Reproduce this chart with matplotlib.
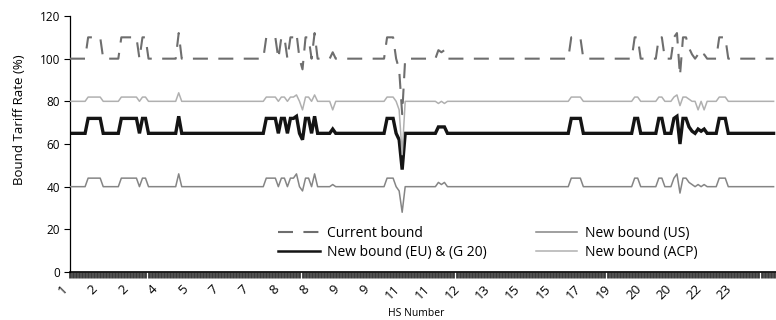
import matplotlib
matplotlib.use('Agg')
import matplotlib.pyplot as plt
from matplotlib.ticker import FixedLocator, MultipleLocator

plt.rcParams['font.family'] = ['Open Sans', 'DejaVu Sans']

# ---------------- data ----------------
tick_labels = ['1', '2', '2', '4', '5', '7', '7', '8', '8', '9', '9', '11', '11',
               '12', '13', '15', '15', '17', '19', '20', '20', '22', '23']
label_step = 10

current_bound = ([100]*6 + [110]*5 + [100]*6 + [110]*6 + [100] + [110]*2 + [100]*10 + [112]
                 + [100]*28 + [110]*4 + [100] + [110]*2 + [100] + [110]*2 + [112] + [100] + [95]
                 + [110]*2 + [100] + [112] + [100]*5 + [103] + [100]*17 + [110]*3 + [100] + [95]
                 + [74] + [100]*11 + [104, 103, 104] + [100]*41 + [110]*4 + [100]*17 + [110]*2
                 + [100]*6 + [110]*2 + [100]*3 + [110, 112, 92, 110, 110, 105, 102] + [100]
                 + [102, 100, 102] + [100]*4 + [110]*3 + [100]*16)

new_bound_eu = ([65]*6 + [72]*5 + [65]*6 + [72]*6 + [65] + [72]*2 + [65]*10 + [73]
                + [65]*28 + [72]*4 + [65] + [72]*2 + [65] + [72]*2 + [73] + [65] + [62]
                + [72]*2 + [65] + [73] + [65]*5 + [67] + [65]*17 + [72]*3 + [65] + [62]
                + [48] + [65]*11 + [68, 68, 68] + [65]*41 + [72]*4 + [65]*17 + [72]*2
                + [65]*6 + [72]*2 + [65]*3 + [72, 73, 60, 72, 72, 68, 66] + [65]
                + [67, 66, 67] + [65]*4 + [72]*3 + [65]*16)

new_bound_us = ([40]*6 + [44]*5 + [40]*6 + [44]*6 + [40] + [44]*2 + [40]*10 + [46]
                + [40]*28 + [44]*4 + [40] + [44]*2 + [40] + [44]*2 + [46] + [40] + [38]
                + [44]*2 + [40] + [46] + [40]*5 + [41] + [40]*17 + [44]*3 + [40] + [38]
                + [28] + [40]*11 + [42, 41, 42] + [40]*41 + [44]*4 + [40]*17 + [44]*2
                + [40]*6 + [44]*2 + [40]*3 + [44, 46, 37, 44, 44, 42, 41] + [40]
                + [41, 40, 41] + [40]*4 + [44]*3 + [40]*16)

new_bound_acp = ([80]*6 + [82]*5 + [80]*6 + [82]*6 + [80] + [82]*2 + [80]*10 + [84]
                 + [80]*28 + [82]*4 + [80] + [82]*2 + [80] + [82]*2 + [83] + [80] + [76]
                 + [82]*2 + [80] + [83] + [80]*5 + [76] + [80]*17 + [82]*3 + [80] + [76]
                 + [55] + [80]*11 + [79, 80, 79] + [80]*41 + [82]*4 + [80]*17 + [82]*2
                 + [80]*6 + [82]*2 + [80]*3 + [82, 83, 78, 82, 82, 81, 80] + [80]
                 + [76, 80, 76] + [80]*4 + [82]*3 + [80]*16)

x = list(range(len(current_bound)))

# ---------------- figure ----------------
fig = plt.figure(figsize=(7.76, 3.20), dpi=100)
ax = fig.add_axes([70/776, 1-272/320, 1-70/776, 256/320])

l_eu, = ax.plot(x, new_bound_eu, color='#141414', lw=2.4, zorder=2,
                solid_joinstyle='miter', label='New bound (EU) & (G 20)')
l_us, = ax.plot(x, new_bound_us, color='#858585', lw=1.1, zorder=3, label='New bound (US)')
l_acp, = ax.plot(x, new_bound_acp, color='#b0b0b0', lw=1.1, zorder=4, label='New bound (ACP)')
l_cur, = ax.plot(x, current_bound, color='#6e6e6e', lw=1.5, zorder=5,
                 dashes=(7.2, 5.0), label='Current bound')

ax.set_xlim(0, 233.8)
ax.set_ylim(0, 120)
ax.yaxis.set_major_locator(MultipleLocator(20))

major_pos = [i*label_step for i in range(len(tick_labels))]
ax.xaxis.set_minor_locator(FixedLocator(x))
ax.tick_params(axis='x', which='both', direction='out', length=4.5, width=2.0,
               color='#3c3c3c', pad=3, labelsize=9.5)
ax.tick_params(axis='y', which='major', direction='out', length=4, width=0.8,
               labelsize=8.5, pad=3)
ax.set_xticks(major_pos, labels=tick_labels, rotation=45, ha='right', va='top')

for s in ['top', 'right']:
    ax.spines[s].set_visible(False)
ax.spines['left'].set_linewidth(0.9)
ax.spines['bottom'].set_linewidth(1.2)

ax.set_ylabel('Bound Tariff Rate (%)', fontsize=9.5)
ax.yaxis.set_label_coords(-0.063, 0.594)
ax.set_xlabel('HS Number', fontsize=7.5)
ax.xaxis.set_label_coords(0.49, -0.142)

leg = fig.legend(handles=[l_cur, l_eu, l_us, l_acp], ncol=2, frameon=False,
                 loc='upper left', bbox_to_anchor=(278/776, 1-226/320),
                 fontsize=10, handlelength=3.0, handletextpad=0.55,
                 columnspacing=3.5, labelspacing=0.3, borderpad=0, borderaxespad=0)
leg.get_lines()[1].set_linewidth(1.8)

fig.savefig('out.png', dpi=100)
